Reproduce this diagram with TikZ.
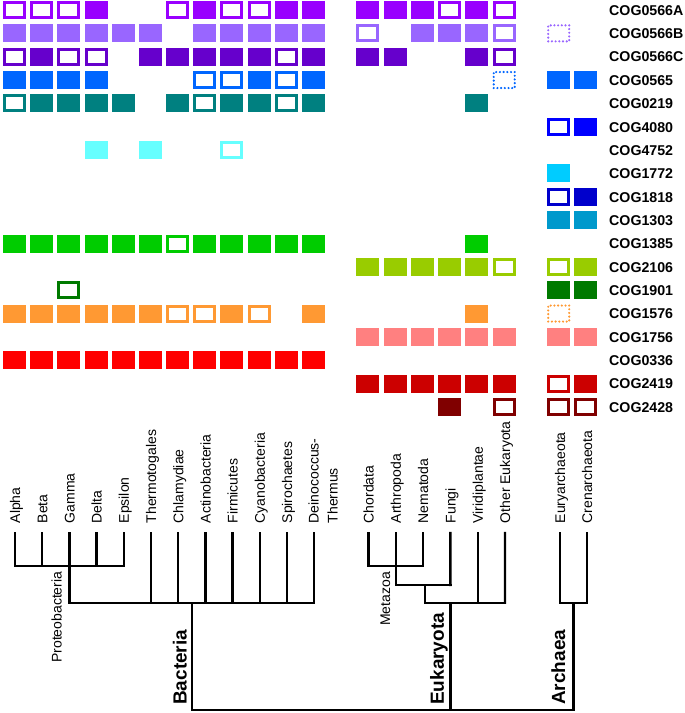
\documentclass[tikz,border=0pt]{standalone}
\usepackage{fontspec}
\setmainfont{Liberation Sans}
\definecolor{cA}{HTML}{9900FF}
\definecolor{cB}{HTML}{9966FF}
\definecolor{cC}{HTML}{6600CC}
\definecolor{cD}{HTML}{0066FF}
\definecolor{cE}{HTML}{008080}
\definecolor{cF}{HTML}{0000FF}
\definecolor{cG}{HTML}{66FFFF}
\definecolor{cH}{HTML}{00CCFF}
\definecolor{cI}{HTML}{0000CC}
\definecolor{cJ}{HTML}{0099CC}
\definecolor{cK}{HTML}{00CC00}
\definecolor{cL}{HTML}{99CC00}
\definecolor{cM}{HTML}{007A00}
\definecolor{cN}{HTML}{FF9933}
\definecolor{cO}{HTML}{FF8080}
\definecolor{cP}{HTML}{FF0000}
\definecolor{cQ}{HTML}{CC0000}
\definecolor{cR}{HTML}{800000}
\tikzset{
  cellfull/.style={rectangle, inner sep=0pt, minimum width=23bp, minimum height=18bp, fill=#1},
  cellhollow/.style={rectangle, inner sep=0pt, minimum width=20bp, minimum height=15bp, draw=#1, line width=3bp, fill=white},
  celldots/.style={rectangle, inner sep=0pt, minimum width=21bp, minimum height=16bp, draw=#1, line width=2.4bp, line cap=round, dash pattern=on 0bp off 3.7bp},
  coglabel/.style={anchor=base west, inner sep=0pt, font=\bfseries\fontsize{14.2bp}{17bp}\selectfont},
  taxonlabel/.style={rotate=90, anchor=base west, inner sep=0pt, font=\fontsize{14bp}{19bp}\selectfont},
  cladelabel/.style={rotate=90, anchor=base east, inner sep=0pt, font=\fontsize{14bp}{17bp}\selectfont},
  domainlabel/.style={rotate=90, anchor=base west, inner sep=0pt, font=\bfseries\fontsize{19bp}{22bp}\selectfont},
  treeline/.style={line width=2.4bp, line cap=rect, black}
}
\newcommand\Bcells[4]{\foreach \c in {#4} \node[cell#1=#2] (b#3-\c) at ({14.6+27.16*\c},{10+23.35*#3}) {};}
\newcommand\Ecells[4]{\foreach \c in {#4} \node[cell#1=#2] (e#3-\c) at ({367.7+27.3*\c},{10+23.35*#3}) {};}
\newcommand\Acells[4]{\foreach \c in {#4} \node[cell#1=#2] (a#3-\c) at ({558.7+27*\c},{10+23.35*#3}) {};}
\begin{document}
\begin{tikzpicture}[x=1bp,y=-1bp]
\useasboundingbox (0,0) rectangle (685,713);
% row 0 COG0566A
\Bcells{full}{cA}{0}{3,7,10,11}
\Bcells{hollow}{cA}{0}{0,1,2,6,8,9}
\Ecells{full}{cA}{0}{0,1,2,4}
\Ecells{hollow}{cA}{0}{3,5}
% row 1 COG0566B
\Bcells{full}{cB}{1}{0,1,2,3,4,5,7,8,9,10,11}
\Ecells{full}{cB}{1}{2,3,4}
\Ecells{hollow}{cB}{1}{0,5}
\Acells{dots}{cB}{1}{0}
% row 2 COG0566C
\Bcells{full}{cC}{2}{1,5,6,7,8,9,11}
\Bcells{hollow}{cC}{2}{0,2,3,10}
\Ecells{full}{cC}{2}{0,1,4}
\Ecells{hollow}{cC}{2}{5}
% row 3 COG0565
\Bcells{full}{cD}{3}{0,1,2,3,9,11}
\Bcells{hollow}{cD}{3}{7,8,10}
\Ecells{dots}{cD}{3}{5}
\Acells{full}{cD}{3}{0,1}
% row 4 COG0219
\Bcells{full}{cE}{4}{1,2,3,4,6,8,9,11}
\Bcells{hollow}{cE}{4}{0,7,10}
\Ecells{full}{cE}{4}{4}
% row 5 COG4080
\Acells{hollow}{cF}{5}{0}
\Acells{full}{cF}{5}{1}
% row 6 COG4752
\Bcells{full}{cG}{6}{3,5}
\Bcells{hollow}{cG}{6}{8}
% row 7 COG1772
\Acells{full}{cH}{7}{0}
% row 8 COG1818
\Acells{hollow}{cI}{8}{0}
\Acells{full}{cI}{8}{1}
% row 9 COG1303
\Acells{full}{cJ}{9}{0,1}
% row 10 COG1385
\Bcells{full}{cK}{10}{0,1,2,3,4,5,7,8,9,10,11}
\Bcells{hollow}{cK}{10}{6}
\Ecells{full}{cK}{10}{4}
% row 11 COG2106
\Ecells{full}{cL}{11}{0,1,2,3,4}
\Ecells{hollow}{cL}{11}{5}
\Acells{hollow}{cL}{11}{0}
\Acells{full}{cL}{11}{1}
% row 12 COG1901
\Bcells{hollow}{cM}{12}{2}
\Acells{full}{cM}{12}{0,1}
% row 13 COG1576
\Bcells{full}{cN}{13}{0,1,2,3,4,5,8,11}
\Bcells{hollow}{cN}{13}{6,7,9}
\Ecells{full}{cN}{13}{4}
\Acells{dots}{cN}{13}{0}
% row 14 COG1756
\Ecells{full}{cO}{14}{0,1,2,3,4,5}
\Acells{full}{cO}{14}{0,1}
% row 15 COG0336
\Bcells{full}{cP}{15}{0,1,2,3,4,5,6,7,8,9,10,11}
% row 16 COG2419
\Ecells{full}{cQ}{16}{0,1,2,3,4,5}
\Acells{hollow}{cQ}{16}{0}
\Acells{full}{cQ}{16}{1}
% row 17 COG2428
\Ecells{full}{cR}{17}{3}
\Ecells{hollow}{cR}{17}{5}
\Acells{hollow}{cR}{17}{0,1}
% COG labels
\foreach \n [count=\k from 0] in {COG0566A,COG0566B,COG0566C,COG0565,COG0219,COG4080,COG4752,COG1772,COG1818,COG1303,COG1385,COG2106,COG1901,COG1576,COG1756,COG0336,COG2419,COG2428}
  \node[coglabel] (lab\k) at (609,{10+23.35*\k+5.3}) {\n};
% taxa labels
\foreach \n [count=\j from 0] in {Alpha,Beta,Gamma,Delta,Epsilon,Thermotogales,Chlamydiae,Actinobacteria,Firmicutes,Cyanobacteria,Spirochaetes}
  \node[taxonlabel] (tx\j) at ({15+27.2*\j+5.1},523.5) {\n};
\node[taxonlabel, anchor=north west, align=left] (tx11) at (308.4,523.5) {Deinococcus-\\Thermus};
\foreach \n [count=\j from 0] in {Chordata,Arthropoda,Nematoda,Fungi,Viridiplantae,Other Eukaryota}
  \node[taxonlabel] (ex\j) at ({368.5+27.3*\j+5.1},523.5) {\n};
\node[taxonlabel] (ax0) at (565.1,523.5) {Euryarchaeota};
\node[taxonlabel] (ax1) at (592.1,523.5) {Crenarchaeota};
% tips
\foreach \j in {0,...,11} \coordinate (bt\j) at ({15+27.2*\j},533);
\foreach \j in {0,...,5} \coordinate (et\j) at ({368.5+27.3*\j},533);
\coordinate (at0) at (560,533);
\coordinate (at1) at (587,533);
% bacteria tree
\coordinate (p0) at (15,566);
\coordinate (p2) at (69.4,566);
\coordinate (p4) at (123.8,566);
\coordinate (g) at (69.4,602.7);
\coordinate (bR) at (314.2,602.7);
\coordinate (broot) at (191.7,602.7);
\coordinate (bbot) at (191.7,710);
\foreach \j in {0,...,4} \draw[treeline] (bt\j) -- (bt\j |- p0);
\draw[treeline] (p0) -- (p4);
\draw[treeline] (p2) -- (g);
\draw[treeline] (g) -- (bR);
\foreach \j in {5,...,11} \draw[treeline] (bt\j) -- (bt\j |- g);
\draw[treeline] (broot) -- (bbot);
% eukaryota tree
\coordinate (m1) at (368.5,566);
\coordinate (m2) at (423.1,566);
\coordinate (m3) at (395.8,585);
\coordinate (m4) at (450.4,585);
\coordinate (m5) at (425,585);
\coordinate (m6) at (425,602.7);
\coordinate (m7) at (505,602.7);
\coordinate (eroot) at (450.4,602.7);
\coordinate (ebot) at (450.4,710);
\draw[treeline] (et0) -- (m1);
\draw[treeline] (et2) -- (m2);
\draw[treeline] (m1) -- (m2);
\draw[treeline] (et1) -- (m3);
\draw[treeline] (et3) -- (m4);
\draw[treeline] (m3) -- (m4);
\draw[treeline] (m5) -- (m6);
\draw[treeline] (m6) -- (m7);
\draw[treeline] (et4) -- (et4 |- m7);
\draw[treeline] (et5) -- (m7);
\draw[treeline] (eroot) -- (ebot);
% archaea tree
\coordinate (q0) at (560,602.7);
\coordinate (q1) at (587,602.7);
\coordinate (aroot) at (573.5,602.7);
\coordinate (abot) at (573.5,710);
\draw[treeline] (at0) -- (q0);
\draw[treeline] (at1) -- (q1);
\draw[treeline] (q0) -- (q1);
\draw[treeline] (aroot) -- (abot);
\draw[treeline] (bbot) -- (abot);
% clade labels
\node[cladelabel] (proteo) at (61.7,571.5) {Proteobacteria};
\node[cladelabel] (metazoa) at (390,572) {Metazoa};
\node[domainlabel] (bact) at (186.7,705) {Bacteria};
\node[domainlabel] (euk) at (443.8,705) {Eukaryota};
\node[domainlabel] (arch) at (565,705) {Archaea};
\end{tikzpicture}
\end{document}
